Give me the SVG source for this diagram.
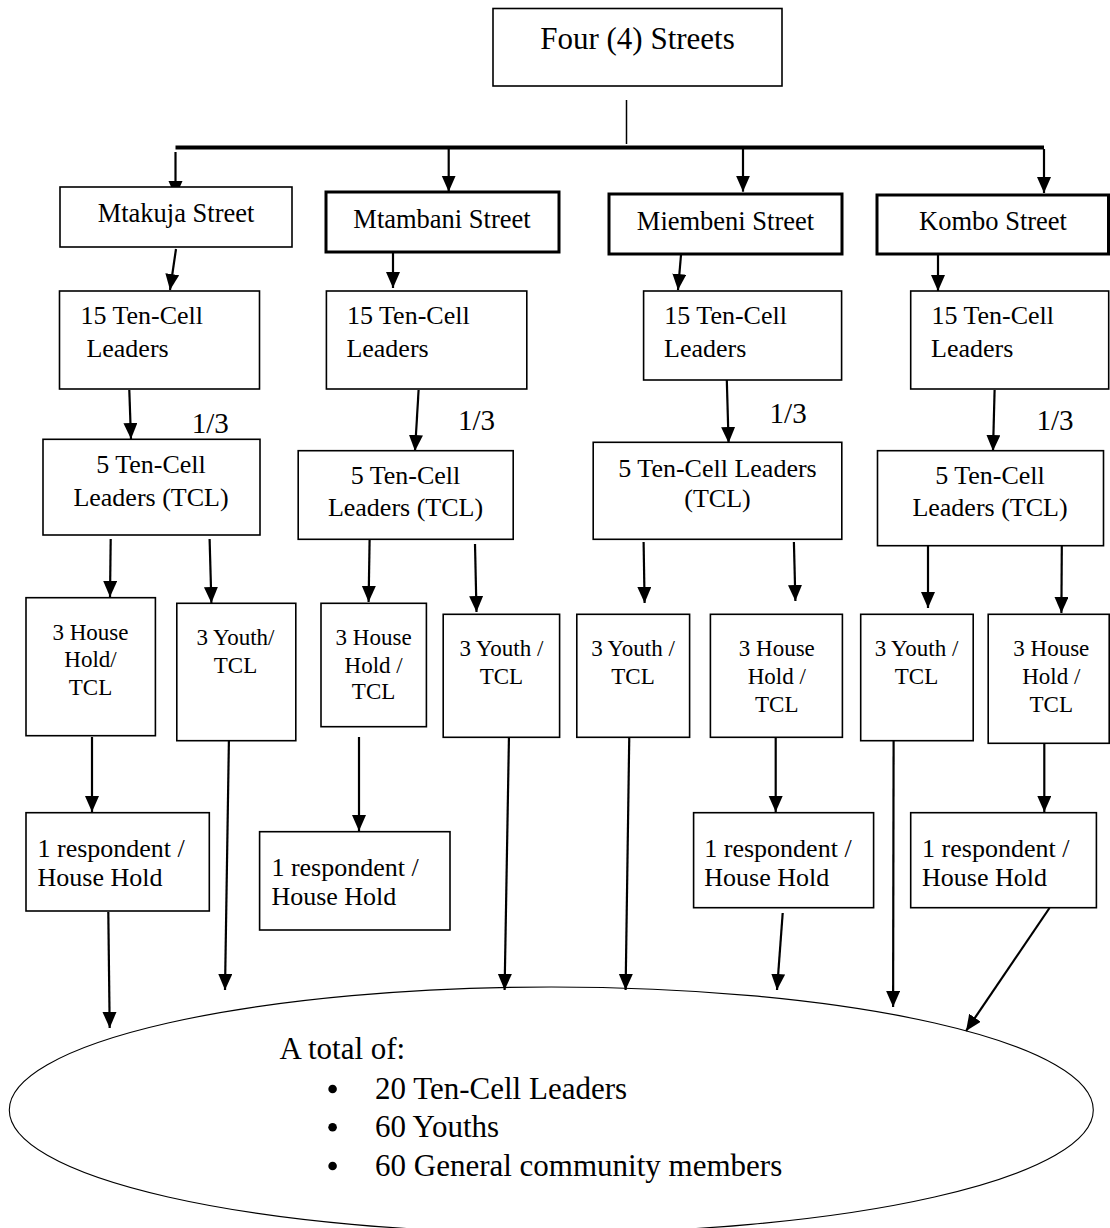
<svg xmlns="http://www.w3.org/2000/svg" width="1110" height="1228" viewBox="0 0 1110 1228">
<style>
text{font-family:"Liberation Serif","Times New Roman",serif;fill:#000}
.b{fill:#fff;stroke:#000;stroke-width:1.6}
.bt{fill:#fff;stroke:#000;stroke-width:3}
.t26{font-size:26px}
.t23{font-size:23px}
.c{text-anchor:middle}
.ln{stroke:#000;fill:none}
.ar{stroke:#000;stroke-width:2.2;fill:none;marker-end:url(#ah)}
</style>
<defs>
<marker id="ah" markerUnits="userSpaceOnUse" markerWidth="17" markerHeight="15" refX="16" refY="7" orient="auto">
<path d="M0,0 L16,7 L0,14 z" fill="#000"/>
</marker>
</defs>
<rect width="1110" height="1228" fill="#fff"/>

<g id="connectors">
<line class="ln" x1="626.5" y1="100" x2="626.5" y2="144" style="stroke-width:1.5"/>
<line class="ln" x1="175.5" y1="147.5" x2="1044" y2="147.5" style="stroke-width:4"/>
<line class="ar" x1="175.5" y1="152" x2="175.5" y2="197"/>
<line class="ar" x1="448.7" y1="149" x2="448.7" y2="191.7"/>
<line class="ar" x1="743" y1="149" x2="743" y2="191.7"/>
<line class="ar" x1="1044" y1="149" x2="1044" y2="193"/>
<line class="ar" x1="176" y1="249" x2="170" y2="290"/>
<line class="ar" x1="393" y1="252" x2="393" y2="288"/>
<line class="ar" x1="681" y1="255" x2="678" y2="290"/>
<line class="ar" x1="938" y1="255" x2="938" y2="291"/>
<line class="ar" x1="129.3" y1="390" x2="131" y2="439"/>
<line class="ar" x1="418.6" y1="390" x2="415" y2="451"/>
<line class="ar" x1="726.8" y1="380" x2="728.6" y2="443"/>
<line class="ar" x1="994.6" y1="390" x2="993" y2="451"/>
<line class="ar" x1="110.7" y1="539" x2="110" y2="597"/>
<line class="ar" x1="209.6" y1="539" x2="211.4" y2="603"/>
<line class="ar" x1="369.6" y1="540" x2="368.6" y2="602"/>
<line class="ar" x1="475" y1="544" x2="476.5" y2="612"/>
<line class="ar" x1="643.6" y1="542" x2="644.6" y2="603"/>
<line class="ar" x1="793.9" y1="542" x2="795.4" y2="601"/>
<line class="ar" x1="928" y1="546" x2="928" y2="608"/>
<line class="ar" x1="1061.8" y1="546" x2="1061.4" y2="613"/>
<line class="ar" x1="92" y1="737" x2="92" y2="812"/>
<line class="ar" x1="359" y1="737" x2="359" y2="831"/>
<line class="ar" x1="775.7" y1="738" x2="775.7" y2="812"/>
<line class="ar" x1="1044.3" y1="743" x2="1044.3" y2="812"/>
<line class="ar" x1="108.3" y1="912" x2="109.7" y2="1028"/>
<line class="ar" x1="229" y1="734" x2="225" y2="990"/>
<line class="ar" x1="509" y1="734" x2="504.6" y2="990"/>
<line class="ar" x1="629.3" y1="734" x2="625.6" y2="990"/>
<line class="ar" x1="782.7" y1="913" x2="777" y2="990"/>
<line class="ar" x1="893.6" y1="741" x2="893.1" y2="1007"/>
<line class="ar" x1="1049.5" y1="908" x2="966" y2="1031"/>
</g>

<g id="top">
<rect class="b" x="493" y="8.5" width="289" height="77.5"/>
<text class="c" x="637.5" y="49.3" font-size="31">Four (4) Streets</text>
</g>

<g id="mtakuja">
<rect class="b" x="60" y="187" width="232" height="60"/>
<text class="c" x="176" y="222" font-size="26.5">Mtakuja Street</text>
</g>
<g id="mtambani">
<rect class="bt" x="326" y="192" width="233" height="60"/>
<text class="c" x="442" y="228" font-size="26.5">Mtambani Street</text>
</g>
<g id="miembeni">
<rect class="bt" x="609" y="194" width="233" height="60"/>
<text class="c" x="725.5" y="230" font-size="26.5">Miembeni Street</text>
</g>
<g id="kombo">
<rect class="bt" x="877" y="195" width="231.5" height="59"/>
<text class="c" x="993" y="230" font-size="26.5">Kombo Street</text>
</g>

<g id="tcl15-1">
<rect class="b" x="59.5" y="291" width="200" height="98"/>
<text class="t26" x="80.4" y="324.3">15 Ten-Cell</text>
<text class="t26" x="86.4" y="356.7">Leaders</text>
</g>
<g id="tcl15-2">
<rect class="b" x="326.4" y="291" width="200.4" height="98"/>
<text class="t26" x="347" y="324.3">15 Ten-Cell</text>
<text class="t26" x="346.4" y="356.7">Leaders</text>
</g>
<g id="tcl15-3">
<rect class="b" x="643.6" y="291" width="198" height="89"/>
<text class="t26" x="664.3" y="324.3">15 Ten-Cell</text>
<text class="t26" x="664" y="356.7">Leaders</text>
</g>
<g id="tcl15-4">
<rect class="b" x="910.7" y="291" width="198" height="98"/>
<text class="t26" x="931.4" y="324.3">15 Ten-Cell</text>
<text class="t26" x="931" y="356.7">Leaders</text>
</g>

<g id="frac">
<text x="191.8" y="433.3" font-size="29">1/3</text>
<text x="457.9" y="430" font-size="29">1/3</text>
<text x="769.6" y="422.7" font-size="29">1/3</text>
<text x="1036.4" y="430" font-size="29">1/3</text>
</g>

<g id="tcl5-1">
<rect class="b" x="43" y="439.3" width="217" height="95.7"/>
<text class="t26 c" x="151" y="473.3">5 Ten-Cell</text>
<text class="t26 c" x="151" y="506">Leaders (TCL)</text>
</g>
<g id="tcl5-2">
<rect class="b" x="298.2" y="450.7" width="215" height="88.6"/>
<text class="t26 c" x="405.5" y="484">5 Ten-Cell</text>
<text class="t26 c" x="405.5" y="515.7">Leaders (TCL)</text>
</g>
<g id="tcl5-3">
<rect class="b" x="593.2" y="442.3" width="248.6" height="97"/>
<text class="t26 c" x="717.5" y="476.7">5 Ten-Cell Leaders</text>
<text class="t26 c" x="717.5" y="506.7">(TCL)</text>
</g>
<g id="tcl5-4">
<rect class="b" x="877.5" y="450.7" width="226" height="95"/>
<text class="t26 c" x="990" y="484">5 Ten-Cell</text>
<text class="t26 c" x="990" y="515.7">Leaders (TCL)</text>
</g>

<g id="house-1">
<rect class="b" x="26" y="597.7" width="129.4" height="138"/>
<text class="t23 c" x="90.5" y="640">3 House</text>
<text class="t23 c" x="90.5" y="666.7">Hold/</text>
<text class="t23 c" x="90.5" y="695">TCL</text>
</g>
<g id="youth-1">
<rect class="b" x="176.8" y="603.3" width="119" height="137.4"/>
<text class="t23 c" x="235.5" y="645">3 Youth/</text>
<text class="t23 c" x="235.5" y="672.7">TCL</text>
</g>
<g id="house-2">
<rect class="b" x="321" y="603.3" width="105.4" height="123.4"/>
<text class="t23 c" x="373.6" y="645">3 House</text>
<text class="t23 c" x="373.6" y="672.7">Hold /</text>
<text class="t23 c" x="373.6" y="699.3">TCL</text>
</g>
<g id="youth-2">
<rect class="b" x="443.2" y="614.3" width="116.4" height="123"/>
<text class="t23 c" x="501.4" y="656">3 Youth /</text>
<text class="t23 c" x="501.4" y="684">TCL</text>
</g>
<g id="youth-3">
<rect class="b" x="576.8" y="614.3" width="112.8" height="123"/>
<text class="t23 c" x="633" y="656">3 Youth /</text>
<text class="t23 c" x="633" y="684">TCL</text>
</g>
<g id="house-3">
<rect class="b" x="710.4" y="614.3" width="132" height="123"/>
<text class="t23 c" x="776.8" y="656">3 House</text>
<text class="t23 c" x="776.8" y="684">Hold /</text>
<text class="t23 c" x="776.8" y="711.7">TCL</text>
</g>
<g id="youth-4">
<rect class="b" x="860.7" y="614.3" width="112.5" height="126.4"/>
<text class="t23 c" x="916.5" y="656">3 Youth /</text>
<text class="t23 c" x="916.5" y="684">TCL</text>
</g>
<g id="house-4">
<rect class="b" x="988.2" y="614.3" width="121" height="129"/>
<text class="t23 c" x="1051.3" y="656">3 House</text>
<text class="t23 c" x="1051.3" y="684">Hold /</text>
<text class="t23 c" x="1051.3" y="711.7">TCL</text>
</g>

<g id="resp-1">
<rect class="b" x="26" y="812.7" width="183.3" height="98.3"/>
<text class="t26" x="37.5" y="856.7">1 respondent /</text>
<text class="t26" x="37.5" y="886">House Hold</text>
</g>
<g id="resp-2">
<rect class="b" x="259.6" y="831.7" width="190.4" height="98.3"/>
<text class="t26" x="271.4" y="876">1 respondent /</text>
<text class="t26" x="271.4" y="905">House Hold</text>
</g>
<g id="resp-3">
<rect class="b" x="693.6" y="812.7" width="180" height="95"/>
<text class="t26" x="704.3" y="856.7">1 respondent /</text>
<text class="t26" x="704.3" y="886">House Hold</text>
</g>
<g id="resp-4">
<rect class="b" x="910.7" y="812.7" width="185.7" height="95"/>
<text class="t26" x="922.1" y="856.7">1 respondent /</text>
<text class="t26" x="922.1" y="886">House Hold</text>
</g>

<g id="total">
<ellipse cx="551.3" cy="1110" rx="542" ry="123" fill="none" stroke="#000" stroke-width="1.1"/>
<text x="279.5" y="1059.3" font-size="31">A total of:</text>
<circle cx="332.6" cy="1089" r="4.3" fill="#000"/>
<circle cx="332.6" cy="1127.3" r="4.3" fill="#000"/>
<circle cx="332.6" cy="1166" r="4.3" fill="#000"/>
<text x="375" y="1099" font-size="31">20 Ten-Cell Leaders</text>
<text x="375" y="1137.3" font-size="31">60 Youths</text>
<text x="375" y="1176" font-size="31">60 General community members</text>
</g>
</svg>
